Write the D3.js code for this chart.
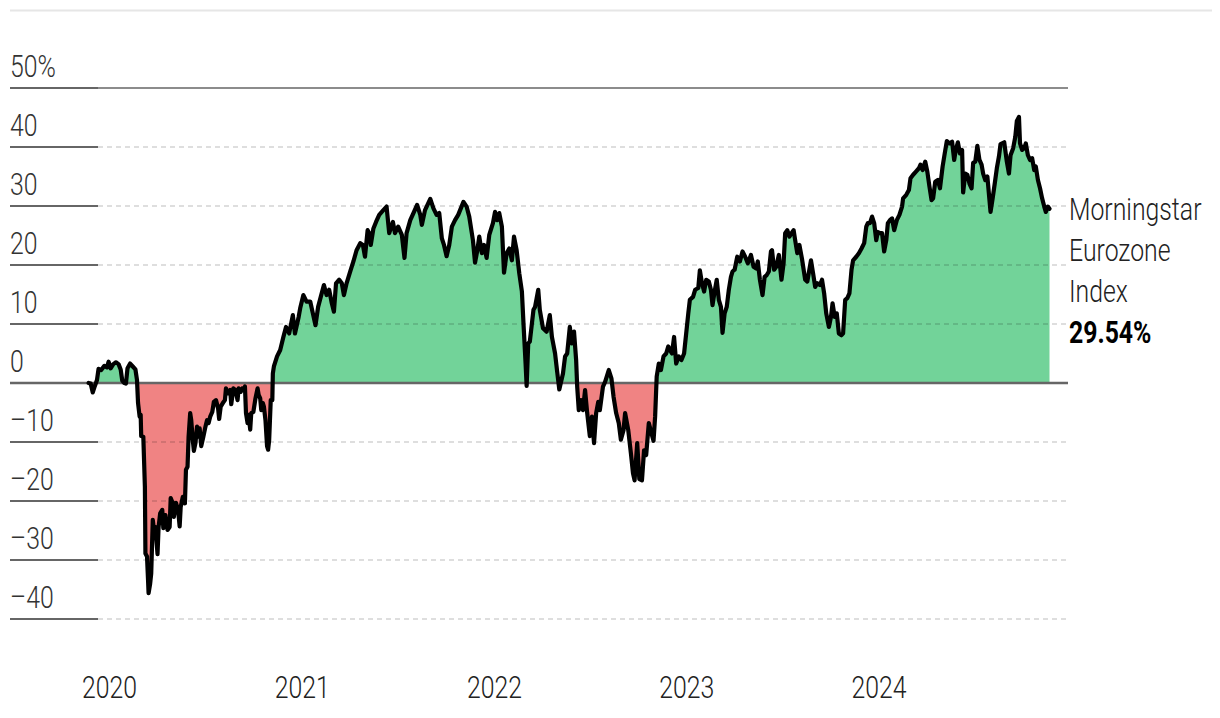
<!DOCTYPE html>
<html><head><meta charset="utf-8">
<script src="https://cdn.jsdelivr.net/npm/d3@7"></script>
<style>
html,body{margin:0;padding:0;background:#fff;}
svg{display:block;}
text{font-family:Roboto,"Liberation Sans",sans-serif;}
</style></head><body>
<svg id="chart" width="1220" height="718"></svg>
<script>
const dates = ["2019-11-22","2019-11-26","2019-11-30","2019-12-04","2019-12-08","2019-12-11","2019-12-16","2019-12-22","2019-12-27","2019-12-30",
"2020-01-03","2020-01-08","2020-01-13","2020-01-18","2020-01-22","2020-01-25","2020-01-29","2020-02-01","2020-02-04","2020-02-09",
"2020-02-14","2020-02-19","2020-02-22","2020-02-24","2020-02-27","2020-02-29","2020-03-01","2020-03-05","2020-03-08","2020-03-09",
"2020-03-12","2020-03-14","2020-03-15","2020-03-18","2020-03-20","2020-03-23","2020-03-26","2020-03-28","2020-04-01","2020-04-03",
"2020-04-06","2020-04-10","2020-04-12","2020-04-16","2020-04-20","2020-04-24","2020-04-26","2020-04-30","2020-05-02","2020-05-06",
"2020-05-10","2020-05-13","2020-05-15","2020-05-19","2020-05-23","2020-05-25","2020-05-28","2020-05-30","2020-06-02","2020-06-04",
"2020-06-07","2020-06-09","2020-06-12","2020-06-15","2020-06-17","2020-06-20","2020-06-23","2020-06-27","2020-07-01","2020-07-04",
"2020-07-07","2020-07-10","2020-07-14","2020-07-17","2020-07-21","2020-07-25","2020-07-27","2020-07-30","2020-08-03","2020-08-07",
"2020-08-09","2020-08-13","2020-08-17","2020-08-19","2020-08-23","2020-08-27","2020-08-31","2020-09-02","2020-09-06","2020-09-09",
"2020-09-11","2020-09-14","2020-09-16","2020-09-19","2020-09-21","2020-09-24","2020-09-26","2020-09-30","2020-10-04","2020-10-08",
"2020-10-10","2020-10-13","2020-10-15","2020-10-18","2020-10-20","2020-10-23","2020-10-26","2020-10-28","2020-10-30","2020-11-02",
"2020-11-05","2020-11-06","2020-11-08","2020-11-14","2020-11-20","2020-11-26","2020-12-01","2020-12-07","2020-12-14","2020-12-18",
"2020-12-25","2020-12-28","2021-01-03","2021-01-09","2021-01-16","2021-01-21","2021-01-26","2021-01-31","2021-02-05","2021-02-11",
"2021-02-16","2021-02-21","2021-02-26","2021-03-02","2021-03-06","2021-03-12","2021-03-17","2021-03-21","2021-03-26","2021-04-02",
"2021-04-08","2021-04-14","2021-04-21","2021-04-26","2021-04-30","2021-05-05","2021-05-08","2021-05-11","2021-05-16","2021-05-21",
"2021-05-27","2021-06-03","2021-06-10","2021-06-15","2021-06-22","2021-06-26","2021-07-02","2021-07-09","2021-07-14","2021-07-18",
"2021-07-25","2021-07-31","2021-08-07","2021-08-13","2021-08-16","2021-08-22","2021-09-01","2021-09-07","2021-09-13","2021-09-18",
"2021-09-23","2021-09-27","2021-10-02","2021-10-07","2021-10-12","2021-10-18","2021-10-24","2021-11-03","2021-11-09","2021-11-14",
"2021-11-21","2021-11-25","2021-11-29","2021-12-03","2021-12-08","2021-12-12","2021-12-17","2021-12-22","2021-12-29","2022-01-02",
"2022-01-06","2022-01-10","2022-01-15","2022-01-19","2022-01-24","2022-01-29","2022-02-03","2022-02-07","2022-02-12","2022-02-17",
"2022-02-22","2022-02-25","2022-03-01","2022-03-03","2022-03-06","2022-03-09","2022-03-16","2022-03-19","2022-03-25","2022-03-28",
"2022-04-03","2022-04-10","2022-04-16","2022-04-20","2022-04-26","2022-04-30","2022-05-04","2022-05-11","2022-05-15","2022-05-19",
"2022-05-24","2022-05-28","2022-06-01","2022-06-05","2022-06-07","2022-06-10","2022-06-14","2022-06-18","2022-06-22","2022-06-26",
"2022-07-01","2022-07-05","2022-07-09","2022-07-13","2022-07-17","2022-07-20","2022-07-26","2022-07-30","2022-08-06","2022-08-11",
"2022-08-15","2022-08-20","2022-08-25","2022-08-29","2022-09-03","2022-09-06","2022-09-12","2022-09-17","2022-09-21","2022-09-24",
"2022-09-29","2022-10-03","2022-10-08","2022-10-12","2022-10-16","2022-10-21","2022-10-26","2022-10-30","2022-11-02","2022-11-05",
"2022-11-09","2022-11-13","2022-11-18","2022-11-23","2022-11-27","2022-11-30","2022-12-04","2022-12-08","2022-12-12","2022-12-17",
"2022-12-22","2022-12-27","2022-12-31","2023-01-04","2023-01-07","2023-01-13","2023-01-17","2023-01-23","2023-01-26","2023-01-30",
"2023-02-03","2023-02-07","2023-02-12","2023-02-16","2023-02-19","2023-02-23","2023-02-27","2023-03-03","2023-03-07","2023-03-10",
"2023-03-14","2023-03-18","2023-03-22","2023-03-26","2023-03-29","2023-04-02","2023-04-07","2023-04-12","2023-04-17","2023-04-22",
"2023-04-27","2023-05-03","2023-05-08","2023-05-13","2023-05-16","2023-05-20","2023-05-25","2023-05-29","2023-06-02","2023-06-06",
"2023-06-10","2023-06-12","2023-06-16","2023-06-20","2023-06-25","2023-06-30","2023-07-04","2023-07-07","2023-07-11","2023-07-15",
"2023-07-19","2023-07-23","2023-07-26","2023-07-30","2023-08-03","2023-08-08","2023-08-14","2023-08-18","2023-08-25","2023-08-29",
"2023-09-02","2023-09-06","2023-09-11","2023-09-15","2023-09-19","2023-09-23","2023-09-28","2023-10-02","2023-10-05","2023-10-09",
"2023-10-13","2023-10-17","2023-10-22","2023-10-25","2023-10-29","2023-11-02","2023-11-06","2023-11-10","2023-11-13","2023-11-19",
"2023-11-24","2023-11-29","2023-12-04","2023-12-08","2023-12-11","2023-12-15","2023-12-19","2023-12-23","2023-12-27","2023-12-30",
"2024-01-03","2024-01-07","2024-01-11","2024-01-15","2024-01-18","2024-01-22","2024-01-26","2024-01-30","2024-02-04","2024-02-09",
"2024-02-14","2024-02-16","2024-02-22","2024-02-27","2024-03-01","2024-03-06","2024-03-11","2024-03-17","2024-03-20","2024-03-24",
"2024-03-29","2024-04-02","2024-04-06","2024-04-10","2024-04-13","2024-04-17","2024-04-22","2024-04-26","2024-05-01","2024-05-05",
"2024-05-09","2024-05-14","2024-05-19","2024-05-23","2024-05-26","2024-05-30","2024-06-03","2024-06-07","2024-06-09","2024-06-13",
"2024-06-17","2024-06-21","2024-06-25","2024-06-28","2024-07-02","2024-07-06","2024-07-10","2024-07-14","2024-07-17","2024-07-21",
"2024-07-25","2024-07-29","2024-07-31","2024-08-04","2024-08-08","2024-08-12","2024-08-16","2024-08-19","2024-08-26","2024-08-31",
"2024-09-04","2024-09-07","2024-09-12","2024-09-16","2024-09-19","2024-09-23","2024-09-25","2024-09-29","2024-10-03","2024-10-06",
"2024-10-10","2024-10-14","2024-10-18","2024-10-22","2024-10-25","2024-10-29","2024-11-02","2024-11-06","2024-11-10","2024-11-13",
"2024-11-17","2024-11-20"];
const values = [0,-0.1,-1.6,-0.5,0.5,2.4,2.2,2.9,2.65,3.6,
2.5,3.2,3.5,3.2,2.3,0.4,0,-0.1,2.5,3.3,
2.8,2.3,0.5,-3.4,-5.7,-5.4,-9,-9.1,-17.6,-28.9,
-29.4,-33.4,-35.6,-34,-32.3,-23.2,-25.5,-24.4,-29,-24.4,
-22.1,-21.5,-24.6,-22.4,-24.9,-24.4,-19.5,-20.4,-22.7,-20.3,
-21.5,-24.3,-21,-19.3,-20.4,-14.7,-14.2,-9.1,-5.1,-6.3,
-9.7,-11.5,-10.2,-7.4,-9.1,-7.7,-10.7,-9.1,-7.4,-6.3,
-6.8,-5.7,-4.9,-3.2,-2.9,-4.3,-6.1,-4,-3.4,-2.9,
-0.9,-1.75,-1.2,-3.6,-0.9,-1.2,-2.9,-0.9,-1.5,-0.9,
-1.2,-0.6,-5.1,-6.8,-5.4,-7.9,-5.1,-4.9,-2.6,-0.9,
-2,-2.6,-4.6,-3.4,-4,-6.3,-10.7,-11.3,-9.7,-2.9,
-2.9,1.6,2.8,4.5,5.6,7.8,9.5,8.4,11.5,8.4,
11.2,12.7,14.9,13.8,13.8,11.8,9.8,12.9,14.6,16.6,
14.9,15.8,13.5,12.1,16.9,17.5,16.9,14.9,16.9,18.9,
20.6,22.5,23.7,23.4,21.4,25.9,25.4,23.4,26.2,27.3,
28.5,29.2,29.9,25.4,27.3,25.4,26.5,25.1,21.2,25.4,
27.6,28.8,30.2,28.5,26.8,29.3,31.2,29.6,28.5,28.8,
24.5,23.4,21.5,23.4,26.5,27.6,28.5,30.7,29.9,28.2,
24.2,20.4,22.3,24.8,22,23.4,21.2,25.1,27.1,29,
27.6,28.8,26.5,18.7,22,22.8,20.8,24.8,22.5,18.6,
15.5,10.1,3.3,-0.5,6.7,7,12.4,12.9,15.8,12.4,
9.3,8.7,11.5,7.8,5,1.9,-1.1,1.6,4.5,5,
9.5,6.7,8.7,3.9,-0.6,-4.6,-2.9,-4.6,-1.2,-5.1,
-9,-5.7,-10.2,-5.1,-3.2,-4.6,-0.6,0.2,2.2,0.8,
-2.3,-5.1,-6.8,-9.6,-8,-5.1,-8,-11.9,-15.3,-16.5,
-10.2,-16.3,-16.5,-11.4,-12.2,-6.8,-8.5,-9.8,-5.7,1.1,
3.3,2.2,4.5,5,6.2,5.6,5,7.8,3.3,4.5,
3.9,5,8.4,11.8,14.1,14.6,15.8,16.1,19.1,16.9,
15.5,17.5,17.2,15.8,13.2,15.5,17.5,14.1,12.9,8.5,
11.8,12.9,15.8,18,18.9,19.2,21.4,20.6,22.3,21.4,
20.3,21.7,19.7,19.4,20.6,17.5,14.9,18,18.3,18.9,
22.3,22.5,19.2,19.7,21.7,17.5,20.3,25.4,25.9,24.8,
25.4,25.9,24.2,22,23.4,21,17.5,17.2,20.8,18.6,
16.3,16.9,16.6,17.5,15.2,11.8,9.5,11.2,13.5,11.2,
11.8,8.4,8.1,8.4,14.1,14.4,15.2,19.2,20.8,21.4,
22,22.8,23.7,26.5,27.1,27.1,28.2,27.1,24.2,25.6,
25.4,25.4,22.3,24.2,27.1,27.6,27.9,25.9,27.6,28.5,
29.9,31.3,31.9,32.7,34.7,35.3,35.8,36.4,37,36.1,
37.5,35.8,33.3,31,31.3,34.1,34.4,33,36.7,38.9,
41,40.6,40.9,37.8,39.5,40.8,38.9,39.5,32.3,35.5,
35.3,33.8,33,37.3,37.5,40.2,37.8,37,35.5,34.4,
35,31,29,31.3,33.8,36.4,38.4,40.5,40.8,37.5,
35.5,38.6,39.8,41.7,44.4,45.1,40.6,39.5,39.8,40.6,
38.6,37.8,38.1,36.1,36.7,34.4,33,31.3,29.9,29,
29.9,29.54];

const yTicks = [-40, -30, -20, -10, 0, 10, 20, 30, 40, 50];
const yTickLabels = ["–40", "–30", "–20", "–10", "0", "10", "20", "30", "40", "50%"];
const xTickDates = ["2020-01-01", "2021-01-01", "2022-01-01", "2023-01-01", "2024-01-01"];
const xTickLabels = ["2020", "2021", "2022", "2023", "2024"];
const seriesName = ["Morningstar", "Eurozone", "Index"];
const lastValueLabel = "29.54%";

const parse = d3.utcParse("%Y-%m-%d");
const data = dates.map((d, i) => ({date: parse(d), value: values[i]}));

const svg = d3.select("#chart");
const x = d3.scaleUtc()
  .domain([parse("2019-11-20"), parse("2024-11-20")])
  .range([87.5, 1049.5]);
const y = d3.scaleLinear().domain([-40, 50]).range([619, 88]);

const left = 10, tickEnd = 98, right = 1068;
const FS = 31, SX = 0.8;

function label(px, py, txt, opts = {}) {
  const t = svg.append("text")
    .attr("transform", `translate(${px},${py}) scale(${SX},1)`)
    .attr("font-size", FS)
    .attr("font-weight", opts.bold ? 700 : 300)
    .attr("fill", opts.fill || "#222")
    .text(txt);
  if (opts.anchor) t.attr("text-anchor", opts.anchor);
  return t;
}

// top rule
svg.append("line").attr("x1", 10).attr("x2", 1212).attr("y1", 10.5).attr("y2", 10.5)
  .attr("stroke", "#e6e6e6").attr("stroke-width", 2);

// clip paths
const defs = svg.append("defs");
defs.append("clipPath").attr("id", "above").append("rect")
  .attr("x", 0).attr("y", 0).attr("width", 1220).attr("height", y(0));
defs.append("clipPath").attr("id", "below").append("rect")
  .attr("x", 0).attr("y", y(0)).attr("width", 1220).attr("height", 718 - y(0));

const area = d3.area().x(d => x(d.date)).y0(y(0)).y1(d => y(d.value));
svg.append("path").datum(data).attr("d", area).attr("fill", "#72d399").attr("clip-path", "url(#above)");
svg.append("path").datum(data).attr("d", area).attr("fill", "#f08383").attr("clip-path", "url(#below)");

// gridlines
const grid = svg.append("g");
yTicks.forEach((t, i) => {
  const yy = y(t);
  if (t === 0) {
    grid.append("line").attr("x1", left).attr("x2", right).attr("y1", yy).attr("y2", yy)
      .attr("stroke", "#666").attr("stroke-width", 2.5);
  } else {
    grid.append("line").attr("x1", left).attr("x2", tickEnd).attr("y1", yy).attr("y2", yy)
      .attr("stroke", "#666").attr("stroke-width", 2.2);
    if (t === 50) {
      grid.append("line").attr("x1", tickEnd).attr("x2", right).attr("y1", yy).attr("y2", yy)
        .attr("stroke", "#666").attr("stroke-width", 1.4);
    } else {
      grid.append("line").attr("x1", tickEnd).attr("x2", right).attr("y1", yy).attr("y2", yy)
        .attr("stroke", "rgba(0,0,0,0.13)").attr("stroke-width", 2).attr("stroke-dasharray", "5,4");
    }
  }
  label(left, yy - 11, yTickLabels[i], {fill: "#333"});
});

// x labels
xTickDates.forEach((d, i) => {
  label(x(parse(d)), 698, xTickLabels[i], {anchor: "middle"});
});

// line
const line = d3.line().x(d => x(d.date)).y(d => y(d.value));
svg.append("path").datum(data).attr("d", line).attr("fill", "none")
  .attr("stroke", "#000").attr("stroke-width", 4.2)
  .attr("stroke-linejoin", "round").attr("stroke-linecap", "round");

// series label
const last = data[data.length - 1];
const ly = y(last.value) + 11;
seriesName.forEach((s, i) => {
  label(1069, ly + i * 41, s);
});
label(1069, ly + 3 * 41, lastValueLabel, {bold: true, fill: "#000"});
</script>
</body></html>
